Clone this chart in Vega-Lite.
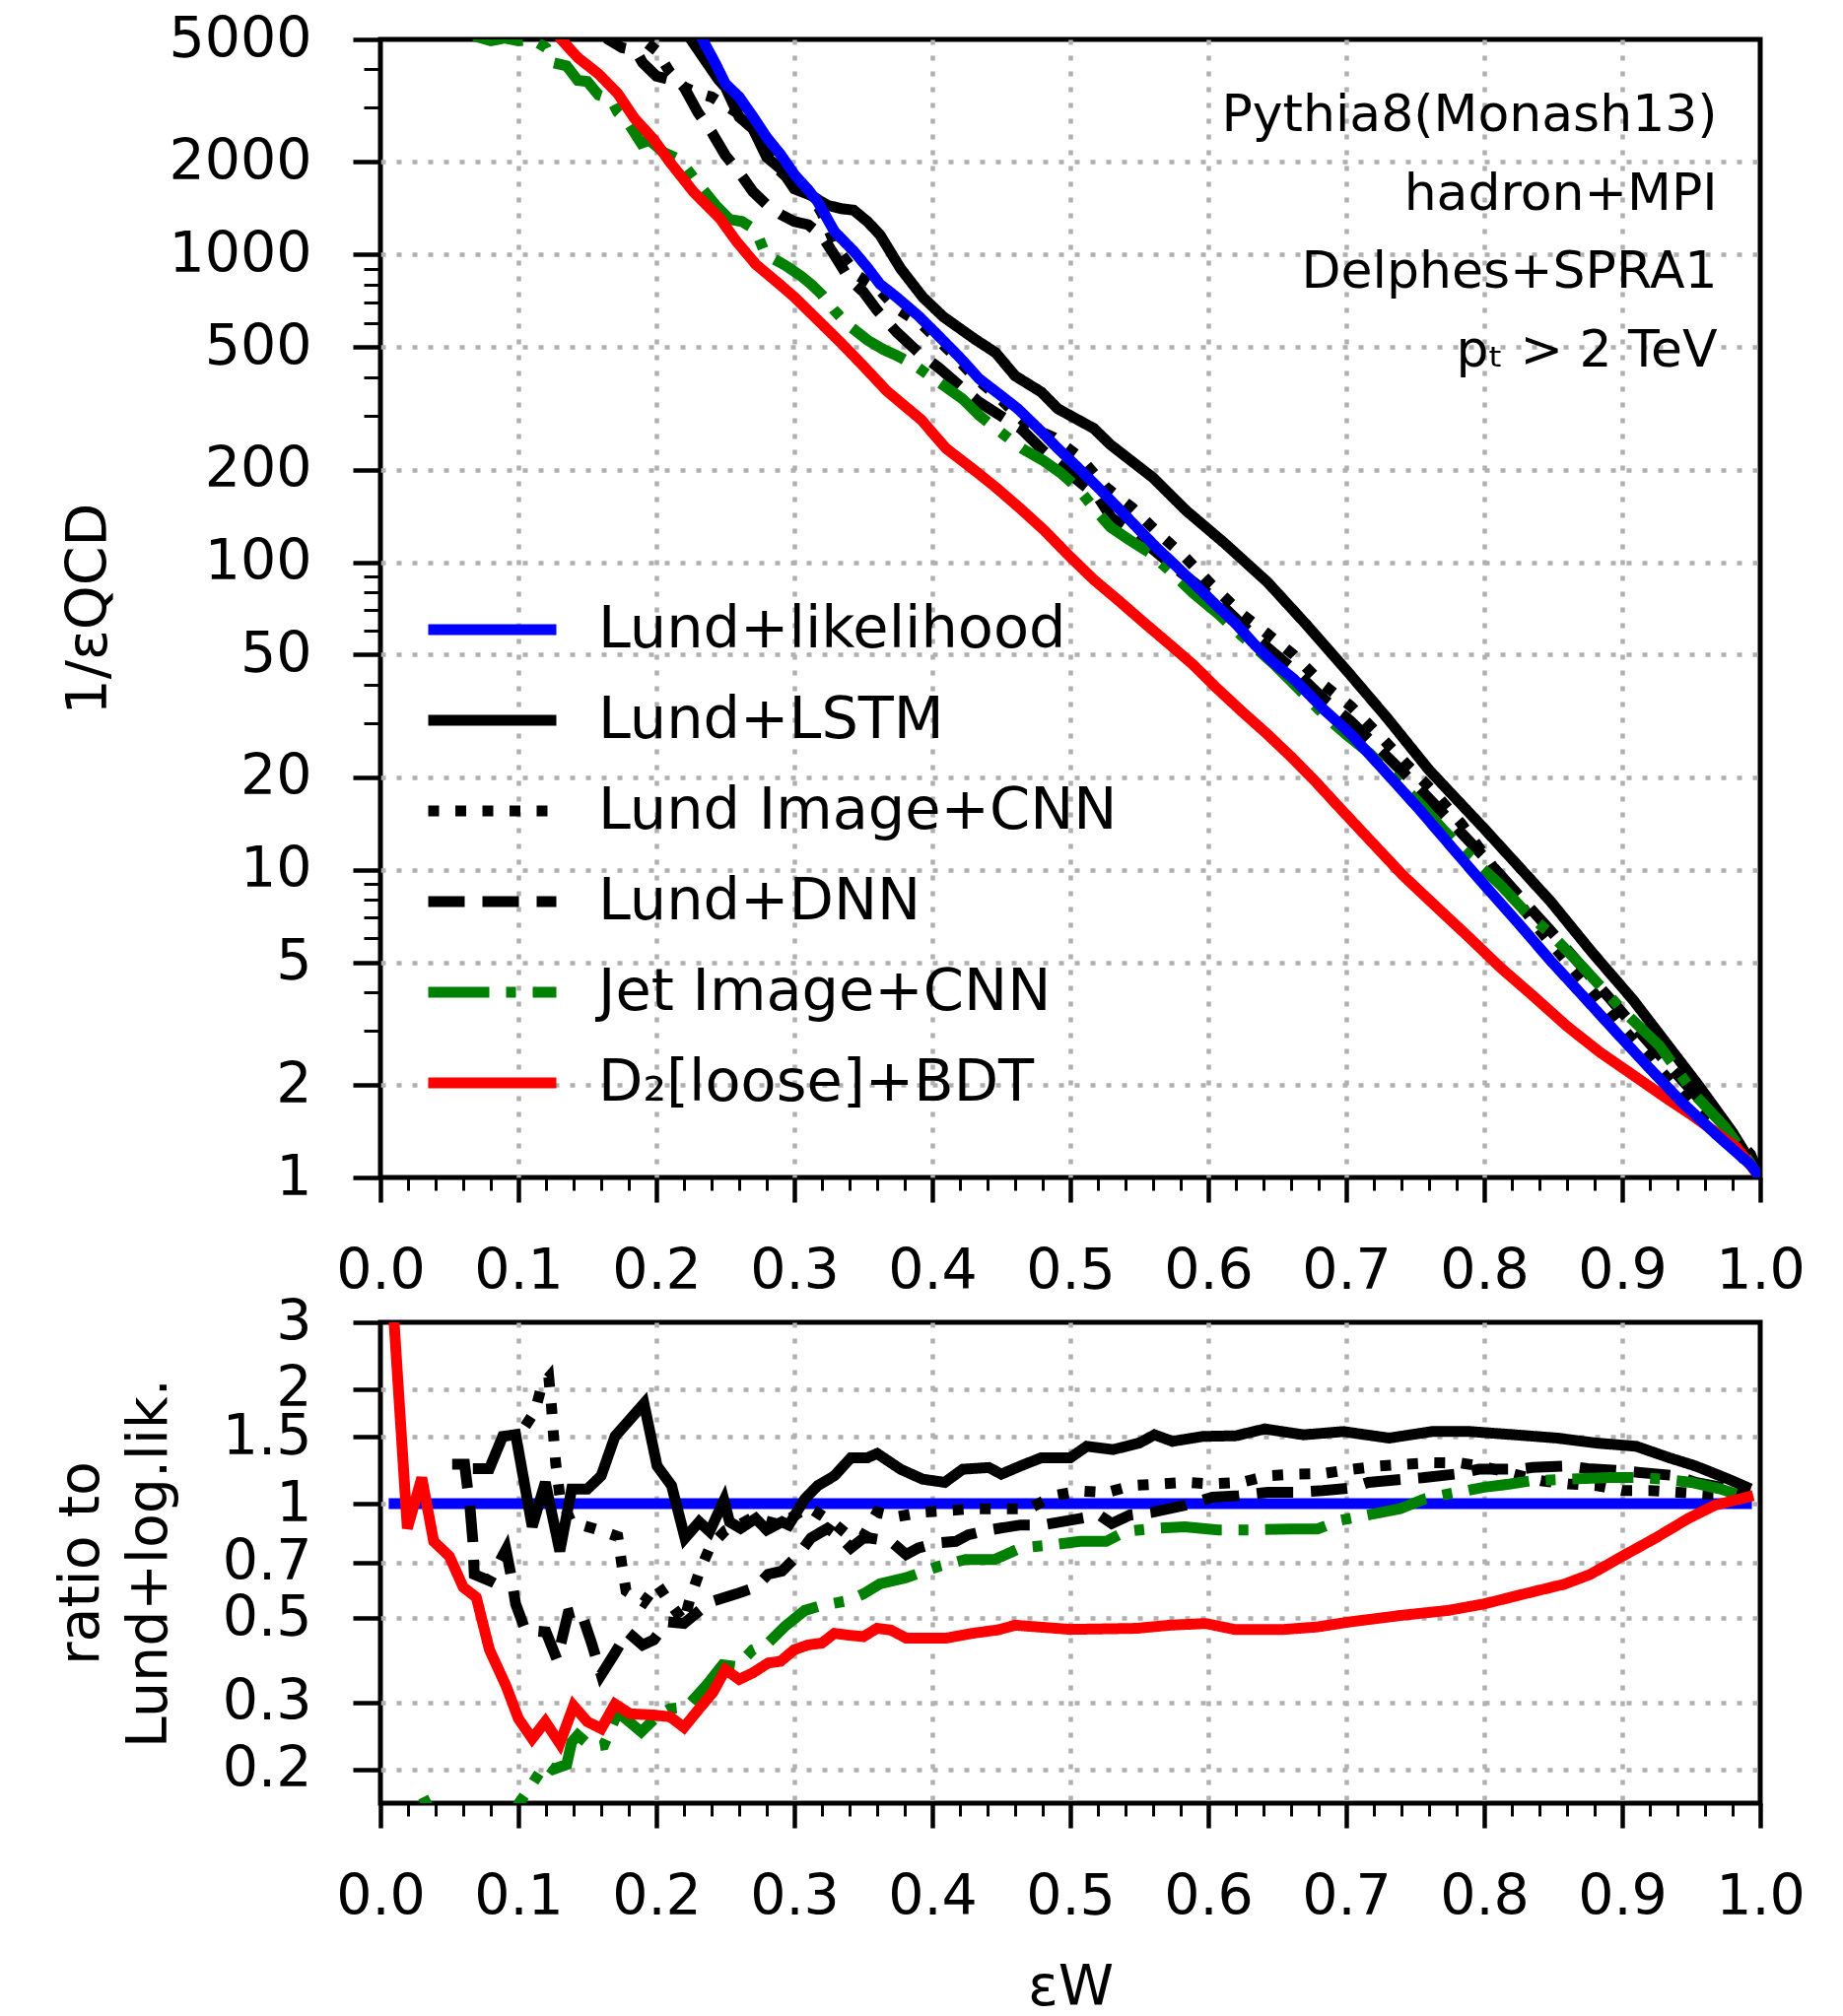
{
"$schema":"https://vega.github.io/schema/vega-lite/v6.json",
"background":"white",
"padding":{"left":50,"top":8,"right":20,"bottom":10},
"config":{
 "font":"DejaVu Sans",
 "view":{"stroke":"black","strokeWidth":5},
 "axis":{"domain":false,"tickColor":"black","labelColor":"black","titleColor":"black","labelFontSize":57,"titleFontSize":57,"titleFontWeight":"normal","gridColor":"#b0b0b0","gridWidth":4.5,"gridDash":[5,11],"labelOverlap":false,"labelFlush":false,"labelBound":false}
},
"datasets":{
"roc":[
{"model":"Lund+likelihood","eff":0.228,"rej":5700},{"model":"Lund+likelihood","eff":0.234,"rej":4943},{"model":"Lund+likelihood","eff":0.243,"rej":4160},{"model":"Lund+likelihood","eff":0.25,"rej":3590},{"model":"Lund+likelihood","eff":0.26,"rej":3250},{"model":"Lund+likelihood","eff":0.27,"rej":2805},{"model":"Lund+likelihood","eff":0.28,"rej":2400},{"model":"Lund+likelihood","eff":0.29,"rej":2113},{"model":"Lund+likelihood","eff":0.3,"rej":1820},{"model":"Lund+likelihood","eff":0.31,"rej":1622},{"model":"Lund+likelihood","eff":0.317,"rej":1483},{"model":"Lund+likelihood","eff":0.329,"rej":1188},{"model":"Lund+likelihood","eff":0.343,"rej":1025},{"model":"Lund+likelihood","eff":0.353,"rej":906},{"model":"Lund+likelihood","eff":0.362,"rej":801},{"model":"Lund+likelihood","eff":0.374,"rej":727},{"model":"Lund+likelihood","eff":0.39,"rej":631},{"model":"Lund+likelihood","eff":0.405,"rej":541},{"model":"Lund+likelihood","eff":0.42,"rej":462},{"model":"Lund+likelihood","eff":0.434,"rej":394},{"model":"Lund+likelihood","eff":0.45,"rej":347},{"model":"Lund+likelihood","eff":0.462,"rej":315},{"model":"Lund+likelihood","eff":0.48,"rej":263},{"model":"Lund+likelihood","eff":0.491,"rej":234},{"model":"Lund+likelihood","eff":0.505,"rej":204},{"model":"Lund+likelihood","eff":0.52,"rej":175},{"model":"Lund+likelihood","eff":0.534,"rej":151},{"model":"Lund+likelihood","eff":0.548,"rej":130},{"model":"Lund+likelihood","eff":0.562,"rej":112},{"model":"Lund+likelihood","eff":0.577,"rej":96.8},{"model":"Lund+likelihood","eff":0.591,"rej":84.1},{"model":"Lund+likelihood","eff":0.605,"rej":73},{"model":"Lund+likelihood","eff":0.62,"rej":63},{"model":"Lund+likelihood","eff":0.634,"rej":53.7},{"model":"Lund+likelihood","eff":0.648,"rej":46.8},{"model":"Lund+likelihood","eff":0.662,"rej":41.7},{"model":"Lund+likelihood","eff":0.684,"rej":33.1},{"model":"Lund+likelihood","eff":0.703,"rej":27.7},{"model":"Lund+likelihood","eff":0.728,"rej":20.9},{"model":"Lund+likelihood","eff":0.753,"rej":15.7},{"model":"Lund+likelihood","eff":0.776,"rej":11.9},{"model":"Lund+likelihood","eff":0.8,"rej":8.93},{"model":"Lund+likelihood","eff":0.824,"rej":6.76},{"model":"Lund+likelihood","eff":0.848,"rej":5.07},{"model":"Lund+likelihood","eff":0.872,"rej":3.87},{"model":"Lund+likelihood","eff":0.896,"rej":2.95},{"model":"Lund+likelihood","eff":0.92,"rej":2.26},{"model":"Lund+likelihood","eff":0.943,"rej":1.76},{"model":"Lund+likelihood","eff":0.968,"rej":1.38},{"model":"Lund+likelihood","eff":0.993,"rej":1.1},{"model":"Lund+likelihood","eff":1.0,"rej":1.0},
{"model":"Lund+LSTM","eff":0.22,"rej":5600},{"model":"Lund+LSTM","eff":0.225,"rej":5000},{"model":"Lund+LSTM","eff":0.235,"rej":4300},{"model":"Lund+LSTM","eff":0.245,"rej":3700},{"model":"Lund+LSTM","eff":0.25,"rej":3500},{"model":"Lund+LSTM","eff":0.26,"rej":2800},{"model":"Lund+LSTM","eff":0.27,"rej":2560},{"model":"Lund+LSTM","eff":0.28,"rej":2070},{"model":"Lund+LSTM","eff":0.29,"rej":1900},{"model":"Lund+LSTM","eff":0.3,"rej":1634},{"model":"Lund+LSTM","eff":0.312,"rej":1556},{"model":"Lund+LSTM","eff":0.324,"rej":1445},{"model":"Lund+LSTM","eff":0.334,"rej":1409},{"model":"Lund+LSTM","eff":0.343,"rej":1393},{"model":"Lund+LSTM","eff":0.353,"rej":1279},{"model":"Lund+LSTM","eff":0.362,"rej":1159},{"model":"Lund+LSTM","eff":0.377,"rej":900},{"model":"Lund+LSTM","eff":0.393,"rej":727},{"model":"Lund+LSTM","eff":0.408,"rej":627},{"model":"Lund+LSTM","eff":0.431,"rej":530},{"model":"Lund+LSTM","eff":0.446,"rej":479},{"model":"Lund+LSTM","eff":0.46,"rej":403},{"model":"Lund+LSTM","eff":0.479,"rej":357},{"model":"Lund+LSTM","eff":0.491,"rej":315},{"model":"Lund+LSTM","eff":0.517,"rej":272},{"model":"Lund+LSTM","eff":0.529,"rej":241},{"model":"Lund+LSTM","eff":0.545,"rej":212},{"model":"Lund+LSTM","eff":0.56,"rej":188},{"model":"Lund+LSTM","eff":0.584,"rej":147},{"model":"Lund+LSTM","eff":0.612,"rej":115},{"model":"Lund+LSTM","eff":0.643,"rej":86},{"model":"Lund+LSTM","eff":0.672,"rej":62},{"model":"Lund+LSTM","eff":0.703,"rej":43},{"model":"Lund+LSTM","eff":0.73,"rej":31},{"model":"Lund+LSTM","eff":0.76,"rej":21.1},{"model":"Lund+LSTM","eff":0.8,"rej":13.6},{"model":"Lund+LSTM","eff":0.848,"rej":7.9},{"model":"Lund+LSTM","eff":0.878,"rej":5.4},{"model":"Lund+LSTM","eff":0.908,"rej":3.77},{"model":"Lund+LSTM","eff":0.955,"rej":2.0},{"model":"Lund+LSTM","eff":0.98,"rej":1.4},{"model":"Lund+LSTM","eff":1.0,"rej":1.0},
{"model":"Lund Image+CNN","eff":0.18,"rej":5600},{"model":"Lund Image+CNN","eff":0.19,"rej":5000},{"model":"Lund Image+CNN","eff":0.2,"rej":4600},{"model":"Lund Image+CNN","eff":0.21,"rej":3900},{"model":"Lund Image+CNN","eff":0.22,"rej":3500},{"model":"Lund Image+CNN","eff":0.23,"rej":3350},{"model":"Lund Image+CNN","eff":0.24,"rej":3250},{"model":"Lund Image+CNN","eff":0.25,"rej":3050},{"model":"Lund Image+CNN","eff":0.26,"rej":2860},{"model":"Lund Image+CNN","eff":0.27,"rej":2580},{"model":"Lund Image+CNN","eff":0.28,"rej":2160},{"model":"Lund Image+CNN","eff":0.29,"rej":1860},{"model":"Lund Image+CNN","eff":0.3,"rej":1690},{"model":"Lund Image+CNN","eff":0.31,"rej":1620},{"model":"Lund Image+CNN","eff":0.32,"rej":1360},{"model":"Lund Image+CNN","eff":0.33,"rej":1060},{"model":"Lund Image+CNN","eff":0.346,"rej":853},{"model":"Lund Image+CNN","eff":0.36,"rej":781},{"model":"Lund Image+CNN","eff":0.374,"rej":669},{"model":"Lund Image+CNN","eff":0.393,"rej":589},{"model":"Lund Image+CNN","eff":0.412,"rej":488},{"model":"Lund Image+CNN","eff":0.43,"rej":402},{"model":"Lund Image+CNN","eff":0.45,"rej":337},{"model":"Lund Image+CNN","eff":0.47,"rej":276},{"model":"Lund Image+CNN","eff":0.488,"rej":254},{"model":"Lund Image+CNN","eff":0.507,"rej":219},{"model":"Lund Image+CNN","eff":0.526,"rej":175},{"model":"Lund Image+CNN","eff":0.545,"rej":150},{"model":"Lund Image+CNN","eff":0.564,"rej":124},{"model":"Lund Image+CNN","eff":0.583,"rej":104},{"model":"Lund Image+CNN","eff":0.602,"rej":84.8},{"model":"Lund Image+CNN","eff":0.624,"rej":68},{"model":"Lund Image+CNN","eff":0.643,"rej":58.4},{"model":"Lund Image+CNN","eff":0.662,"rej":49.9},{"model":"Lund Image+CNN","eff":0.683,"rej":40.1},{"model":"Lund Image+CNN","eff":0.703,"rej":34.1},{"model":"Lund Image+CNN","eff":0.724,"rej":27.4},{"model":"Lund Image+CNN","eff":0.743,"rej":22.2},{"model":"Lund Image+CNN","eff":0.762,"rej":18.2},{"model":"Lund Image+CNN","eff":0.783,"rej":14.2},{"model":"Lund Image+CNN","eff":0.8,"rej":11.2},{"model":"Lund Image+CNN","eff":0.82,"rej":8.4},{"model":"Lund Image+CNN","eff":0.841,"rej":6.3},{"model":"Lund Image+CNN","eff":0.861,"rej":4.96},{"model":"Lund Image+CNN","eff":0.881,"rej":3.9},{"model":"Lund Image+CNN","eff":0.9,"rej":3.06},{"model":"Lund Image+CNN","eff":0.92,"rej":2.44},{"model":"Lund Image+CNN","eff":0.94,"rej":1.93},{"model":"Lund Image+CNN","eff":0.96,"rej":1.54},{"model":"Lund Image+CNN","eff":0.985,"rej":1.19},{"model":"Lund Image+CNN","eff":1.0,"rej":1.0},
{"model":"Lund+DNN","eff":0.16,"rej":5600},{"model":"Lund+DNN","eff":0.165,"rej":5000},{"model":"Lund+DNN","eff":0.175,"rej":4700},{"model":"Lund+DNN","eff":0.185,"rej":4600},{"model":"Lund+DNN","eff":0.19,"rej":4200},{"model":"Lund+DNN","eff":0.2,"rej":3800},{"model":"Lund+DNN","eff":0.21,"rej":3700},{"model":"Lund+DNN","eff":0.22,"rej":3500},{"model":"Lund+DNN","eff":0.23,"rej":2900},{"model":"Lund+DNN","eff":0.24,"rej":2500},{"model":"Lund+DNN","eff":0.25,"rej":2100},{"model":"Lund+DNN","eff":0.26,"rej":1850},{"model":"Lund+DNN","eff":0.27,"rej":1600},{"model":"Lund+DNN","eff":0.28,"rej":1450},{"model":"Lund+DNN","eff":0.29,"rej":1350},{"model":"Lund+DNN","eff":0.3,"rej":1280},{"model":"Lund+DNN","eff":0.31,"rej":1250},{"model":"Lund+DNN","eff":0.32,"rej":1150},{"model":"Lund+DNN","eff":0.33,"rej":980},{"model":"Lund+DNN","eff":0.34,"rej":830},{"model":"Lund+DNN","eff":0.35,"rej":756},{"model":"Lund+DNN","eff":0.36,"rej":658},{"model":"Lund+DNN","eff":0.374,"rej":560},{"model":"Lund+DNN","eff":0.39,"rej":480},{"model":"Lund+DNN","eff":0.405,"rej":427},{"model":"Lund+DNN","eff":0.42,"rej":374},{"model":"Lund+DNN","eff":0.434,"rej":331},{"model":"Lund+DNN","eff":0.45,"rej":298},{"model":"Lund+DNN","eff":0.464,"rej":272},{"model":"Lund+DNN","eff":0.48,"rej":231},{"model":"Lund+DNN","eff":0.5,"rej":193},{"model":"Lund+DNN","eff":0.52,"rej":163},{"model":"Lund+DNN","eff":0.53,"rej":139},{"model":"Lund+DNN","eff":0.548,"rej":122},{"model":"Lund+DNN","eff":0.577,"rej":95},{"model":"Lund+DNN","eff":0.605,"rej":76},{"model":"Lund+DNN","eff":0.634,"rej":57},{"model":"Lund+DNN","eff":0.662,"rej":44.6},{"model":"Lund+DNN","eff":0.684,"rej":35.8},{"model":"Lund+DNN","eff":0.703,"rej":30.5},{"model":"Lund+DNN","eff":0.753,"rej":18.4},{"model":"Lund+DNN","eff":0.8,"rej":11.0},{"model":"Lund+DNN","eff":0.848,"rej":6.34},{"model":"Lund+DNN","eff":0.896,"rej":3.6},{"model":"Lund+DNN","eff":0.943,"rej":2.08},{"model":"Lund+DNN","eff":0.993,"rej":1.19},{"model":"Lund+DNN","eff":1.0,"rej":1.0},
{"model":"Jet Image+CNN","eff":0.065,"rej":5600},{"model":"Jet Image+CNN","eff":0.07,"rej":5100},{"model":"Jet Image+CNN","eff":0.08,"rej":4950},{"model":"Jet Image+CNN","eff":0.09,"rej":5050},{"model":"Jet Image+CNN","eff":0.1,"rej":4950},{"model":"Jet Image+CNN","eff":0.11,"rej":5000},{"model":"Jet Image+CNN","eff":0.12,"rej":4700},{"model":"Jet Image+CNN","eff":0.125,"rej":4200},{"model":"Jet Image+CNN","eff":0.135,"rej":4100},{"model":"Jet Image+CNN","eff":0.143,"rej":3680},{"model":"Jet Image+CNN","eff":0.15,"rej":3650},{"model":"Jet Image+CNN","eff":0.158,"rej":3300},{"model":"Jet Image+CNN","eff":0.167,"rej":3200},{"model":"Jet Image+CNN","eff":0.172,"rej":2900},{"model":"Jet Image+CNN","eff":0.179,"rej":2700},{"model":"Jet Image+CNN","eff":0.189,"rej":2300},{"model":"Jet Image+CNN","eff":0.195,"rej":2350},{"model":"Jet Image+CNN","eff":0.205,"rej":2150},{"model":"Jet Image+CNN","eff":0.215,"rej":2050},{"model":"Jet Image+CNN","eff":0.22,"rej":1950},{"model":"Jet Image+CNN","eff":0.228,"rej":1750},{"model":"Jet Image+CNN","eff":0.235,"rej":1600},{"model":"Jet Image+CNN","eff":0.243,"rej":1446},{"model":"Jet Image+CNN","eff":0.253,"rej":1300},{"model":"Jet Image+CNN","eff":0.262,"rej":1280},{"model":"Jet Image+CNN","eff":0.272,"rej":1200},{"model":"Jet Image+CNN","eff":0.279,"rej":1000},{"model":"Jet Image+CNN","eff":0.29,"rej":940},{"model":"Jet Image+CNN","eff":0.296,"rej":906},{"model":"Jet Image+CNN","eff":0.305,"rej":850},{"model":"Jet Image+CNN","eff":0.312,"rej":801},{"model":"Jet Image+CNN","eff":0.32,"rej":740},{"model":"Jet Image+CNN","eff":0.329,"rej":658},{"model":"Jet Image+CNN","eff":0.339,"rej":590},{"model":"Jet Image+CNN","eff":0.353,"rej":527},{"model":"Jet Image+CNN","eff":0.365,"rej":490},{"model":"Jet Image+CNN","eff":0.374,"rej":470},{"model":"Jet Image+CNN","eff":0.386,"rej":440},{"model":"Jet Image+CNN","eff":0.398,"rej":403},{"model":"Jet Image+CNN","eff":0.41,"rej":370},{"model":"Jet Image+CNN","eff":0.422,"rej":339},{"model":"Jet Image+CNN","eff":0.434,"rej":300},{"model":"Jet Image+CNN","eff":0.446,"rej":272},{"model":"Jet Image+CNN","eff":0.465,"rej":234},{"model":"Jet Image+CNN","eff":0.481,"rej":213},{"model":"Jet Image+CNN","eff":0.493,"rej":195},{"model":"Jet Image+CNN","eff":0.505,"rej":175},{"model":"Jet Image+CNN","eff":0.517,"rej":150},{"model":"Jet Image+CNN","eff":0.529,"rej":130},{"model":"Jet Image+CNN","eff":0.543,"rej":118},{"model":"Jet Image+CNN","eff":0.558,"rej":107},{"model":"Jet Image+CNN","eff":0.574,"rej":92},{"model":"Jet Image+CNN","eff":0.589,"rej":79.4},{"model":"Jet Image+CNN","eff":0.607,"rej":68},{"model":"Jet Image+CNN","eff":0.624,"rej":57.8},{"model":"Jet Image+CNN","eff":0.648,"rej":46.4},{"model":"Jet Image+CNN","eff":0.66,"rej":41},{"model":"Jet Image+CNN","eff":0.672,"rej":36.2},{"model":"Jet Image+CNN","eff":0.685,"rej":31.5},{"model":"Jet Image+CNN","eff":0.7,"rej":27.5},{"model":"Jet Image+CNN","eff":0.717,"rej":23.9},{"model":"Jet Image+CNN","eff":0.735,"rej":19.8},{"model":"Jet Image+CNN","eff":0.753,"rej":16.5},{"model":"Jet Image+CNN","eff":0.771,"rej":13.4},{"model":"Jet Image+CNN","eff":0.789,"rej":11.1},{"model":"Jet Image+CNN","eff":0.812,"rej":8.9},{"model":"Jet Image+CNN","eff":0.83,"rej":7.3},{"model":"Jet Image+CNN","eff":0.848,"rej":6.2},{"model":"Jet Image+CNN","eff":0.872,"rej":4.8},{"model":"Jet Image+CNN","eff":0.9,"rej":3.5},{"model":"Jet Image+CNN","eff":0.927,"rej":2.68},{"model":"Jet Image+CNN","eff":0.953,"rej":1.85},{"model":"Jet Image+CNN","eff":0.975,"rej":1.45},{"model":"Jet Image+CNN","eff":1.0,"rej":1.0},
{"model":"D₂[loose]+BDT","eff":0.125,"rej":5600},{"model":"D₂[loose]+BDT","eff":0.131,"rej":5000},{"model":"D₂[loose]+BDT","eff":0.143,"rej":4365},{"model":"D₂[loose]+BDT","eff":0.158,"rej":3865},{"model":"D₂[loose]+BDT","eff":0.172,"rej":3335},{"model":"D₂[loose]+BDT","eff":0.184,"rej":2773},{"model":"D₂[loose]+BDT","eff":0.198,"rej":2366},{"model":"D₂[loose]+BDT","eff":0.21,"rej":1991},{"model":"D₂[loose]+BDT","eff":0.227,"rej":1595},{"model":"D₂[loose]+BDT","eff":0.246,"rej":1310},{"model":"D₂[loose]+BDT","eff":0.258,"rej":1104},{"model":"D₂[loose]+BDT","eff":0.272,"rej":929},{"model":"D₂[loose]+BDT","eff":0.289,"rej":802},{"model":"D₂[loose]+BDT","eff":0.3,"rej":727},{"model":"D₂[loose]+BDT","eff":0.317,"rej":612},{"model":"D₂[loose]+BDT","eff":0.334,"rej":515},{"model":"D₂[loose]+BDT","eff":0.35,"rej":434},{"model":"D₂[loose]+BDT","eff":0.367,"rej":360},{"model":"D₂[loose]+BDT","eff":0.392,"rej":290},{"model":"D₂[loose]+BDT","eff":0.41,"rej":234},{"model":"D₂[loose]+BDT","eff":0.428,"rej":203},{"model":"D₂[loose]+BDT","eff":0.446,"rej":175},{"model":"D₂[loose]+BDT","eff":0.464,"rej":149},{"model":"D₂[loose]+BDT","eff":0.481,"rej":127},{"model":"D₂[loose]+BDT","eff":0.499,"rej":105},{"model":"D₂[loose]+BDT","eff":0.517,"rej":87.7},{"model":"D₂[loose]+BDT","eff":0.535,"rej":75},{"model":"D₂[loose]+BDT","eff":0.553,"rej":63.8},{"model":"D₂[loose]+BDT","eff":0.571,"rej":54.5},{"model":"D₂[loose]+BDT","eff":0.589,"rej":46.4},{"model":"D₂[loose]+BDT","eff":0.606,"rej":39},{"model":"D₂[loose]+BDT","eff":0.624,"rej":32.8},{"model":"D₂[loose]+BDT","eff":0.642,"rej":27.8},{"model":"D₂[loose]+BDT","eff":0.66,"rej":23.3},{"model":"D₂[loose]+BDT","eff":0.677,"rej":19.5},{"model":"D₂[loose]+BDT","eff":0.693,"rej":16.3},{"model":"D₂[loose]+BDT","eff":0.717,"rej":12.5},{"model":"D₂[loose]+BDT","eff":0.741,"rej":9.6},{"model":"D₂[loose]+BDT","eff":0.765,"rej":7.6},{"model":"D₂[loose]+BDT","eff":0.789,"rej":6.03},{"model":"D₂[loose]+BDT","eff":0.812,"rej":4.8},{"model":"D₂[loose]+BDT","eff":0.836,"rej":3.87},{"model":"D₂[loose]+BDT","eff":0.86,"rej":3.1},{"model":"D₂[loose]+BDT","eff":0.884,"rej":2.55},{"model":"D₂[loose]+BDT","eff":0.908,"rej":2.15},{"model":"D₂[loose]+BDT","eff":0.932,"rej":1.81},{"model":"D₂[loose]+BDT","eff":0.95,"rej":1.6},{"model":"D₂[loose]+BDT","eff":0.967,"rej":1.41},{"model":"D₂[loose]+BDT","eff":0.983,"rej":1.25},{"model":"D₂[loose]+BDT","eff":1.0,"rej":1.0}
],
"ratio":[
{"model":"Lund+likelihood","eff":0.006,"ratio":1},{"model":"Lund+likelihood","eff":0.994,"ratio":1},
{"model":"Lund+LSTM","eff":0.067,"ratio":1.237},{"model":"Lund+LSTM","eff":0.079,"ratio":1.237},{"model":"Lund+LSTM","eff":0.0886,"ratio":1.503},{"model":"Lund+LSTM","eff":0.098,"ratio":1.52},{"model":"Lund+LSTM","eff":0.11,"ratio":0.87},{"model":"Lund+LSTM","eff":0.1195,"ratio":1.138},{"model":"Lund+LSTM","eff":0.13,"ratio":0.75},{"model":"Lund+LSTM","eff":0.1386,"ratio":1.093},{"model":"Lund+LSTM","eff":0.15,"ratio":1.093},{"model":"Lund+LSTM","eff":0.16,"ratio":1.184},{"model":"Lund+LSTM","eff":0.17,"ratio":1.503},{"model":"Lund+LSTM","eff":0.191,"ratio":1.834},{"model":"Lund+LSTM","eff":0.2005,"ratio":1.257},{"model":"Lund+LSTM","eff":0.211,"ratio":1.116},{"model":"Lund+LSTM","eff":0.2207,"ratio":0.812},{"model":"Lund+LSTM","eff":0.231,"ratio":0.896},{"model":"Lund+LSTM","eff":0.2386,"ratio":0.845},{"model":"Lund+LSTM","eff":0.249,"ratio":1.02},{"model":"Lund+LSTM","eff":0.253,"ratio":0.896},{"model":"Lund+LSTM","eff":0.261,"ratio":0.861},{"model":"Lund+LSTM","eff":0.272,"ratio":0.914},{"model":"Lund+LSTM","eff":0.28,"ratio":0.853},{"model":"Lund+LSTM","eff":0.291,"ratio":0.896},{"model":"Lund+LSTM","eff":0.296,"ratio":0.879},{"model":"Lund+LSTM","eff":0.3076,"ratio":1.03},{"model":"Lund+LSTM","eff":0.317,"ratio":1.116},{"model":"Lund+LSTM","eff":0.329,"ratio":1.184},{"model":"Lund+LSTM","eff":0.341,"ratio":1.321},{"model":"Lund+LSTM","eff":0.353,"ratio":1.321},{"model":"Lund+LSTM","eff":0.36,"ratio":1.355},{"model":"Lund+LSTM","eff":0.377,"ratio":1.232},{"model":"Lund+LSTM","eff":0.393,"ratio":1.16},{"model":"Lund+LSTM","eff":0.409,"ratio":1.138},{"model":"Lund+LSTM","eff":0.422,"ratio":1.232},{"model":"Lund+LSTM","eff":0.441,"ratio":1.245},{"model":"Lund+LSTM","eff":0.45,"ratio":1.196},{"model":"Lund+LSTM","eff":0.464,"ratio":1.257},{"model":"Lund+LSTM","eff":0.479,"ratio":1.321},{"model":"Lund+LSTM","eff":0.5,"ratio":1.321},{"model":"Lund+LSTM","eff":0.512,"ratio":1.416},{"model":"Lund+LSTM","eff":0.531,"ratio":1.388},{"model":"Lund+LSTM","eff":0.55,"ratio":1.444},{"model":"Lund+LSTM","eff":0.561,"ratio":1.518},{"model":"Lund+LSTM","eff":0.574,"ratio":1.459},{"model":"Lund+LSTM","eff":0.596,"ratio":1.503},{"model":"Lund+LSTM","eff":0.62,"ratio":1.509},{"model":"Lund+LSTM","eff":0.641,"ratio":1.573},{"model":"Lund+LSTM","eff":0.669,"ratio":1.518},{"model":"Lund+LSTM","eff":0.698,"ratio":1.548},{"model":"Lund+LSTM","eff":0.731,"ratio":1.488},{"model":"Lund+LSTM","eff":0.762,"ratio":1.548},{"model":"Lund+LSTM","eff":0.79,"ratio":1.548},{"model":"Lund+LSTM","eff":0.822,"ratio":1.518},{"model":"Lund+LSTM","eff":0.853,"ratio":1.488},{"model":"Lund+LSTM","eff":0.881,"ratio":1.444},{"model":"Lund+LSTM","eff":0.91,"ratio":1.416},{"model":"Lund+LSTM","eff":0.934,"ratio":1.321},{"model":"Lund+LSTM","eff":0.953,"ratio":1.257},{"model":"Lund+LSTM","eff":0.977,"ratio":1.16},{"model":"Lund+LSTM","eff":0.993,"ratio":1.094},
{"model":"Lund Image+CNN","eff":0.105,"ratio":1.6},{"model":"Lund Image+CNN","eff":0.112,"ratio":1.75},{"model":"Lund Image+CNN","eff":0.117,"ratio":2.05},{"model":"Lund Image+CNN","eff":0.122,"ratio":2.15},{"model":"Lund Image+CNN","eff":0.124,"ratio":1.8},{"model":"Lund Image+CNN","eff":0.1255,"ratio":1.5},{"model":"Lund Image+CNN","eff":0.127,"ratio":1.28},{"model":"Lund Image+CNN","eff":0.13,"ratio":1.05},{"model":"Lund Image+CNN","eff":0.138,"ratio":0.9},{"model":"Lund Image+CNN","eff":0.146,"ratio":0.879},{"model":"Lund Image+CNN","eff":0.158,"ratio":0.853},{"model":"Lund Image+CNN","eff":0.172,"ratio":0.82},{"model":"Lund Image+CNN","eff":0.175,"ratio":0.69},{"model":"Lund Image+CNN","eff":0.178,"ratio":0.59},{"model":"Lund Image+CNN","eff":0.191,"ratio":0.551},{"model":"Lund Image+CNN","eff":0.2005,"ratio":0.614},{"model":"Lund Image+CNN","eff":0.211,"ratio":0.54},{"model":"Lund Image+CNN","eff":0.22,"ratio":0.489},{"model":"Lund Image+CNN","eff":0.224,"ratio":0.556},{"model":"Lund Image+CNN","eff":0.231,"ratio":0.659},{"model":"Lund Image+CNN","eff":0.239,"ratio":0.772},{"model":"Lund Image+CNN","eff":0.25,"ratio":0.85},{"model":"Lund Image+CNN","eff":0.26,"ratio":0.88},{"model":"Lund Image+CNN","eff":0.27,"ratio":0.92},{"model":"Lund Image+CNN","eff":0.28,"ratio":0.9},{"model":"Lund Image+CNN","eff":0.29,"ratio":0.88},{"model":"Lund Image+CNN","eff":0.3,"ratio":0.93},{"model":"Lund Image+CNN","eff":0.31,"ratio":0.98},{"model":"Lund Image+CNN","eff":0.32,"ratio":0.93},{"model":"Lund Image+CNN","eff":0.33,"ratio":0.88},{"model":"Lund Image+CNN","eff":0.34,"ratio":0.82},{"model":"Lund Image+CNN","eff":0.35,"ratio":0.82},{"model":"Lund Image+CNN","eff":0.36,"ratio":0.95},{"model":"Lund Image+CNN","eff":0.374,"ratio":0.924},{"model":"Lund Image+CNN","eff":0.393,"ratio":0.95},{"model":"Lund Image+CNN","eff":0.412,"ratio":0.96},{"model":"Lund Image+CNN","eff":0.43,"ratio":0.97},{"model":"Lund Image+CNN","eff":0.45,"ratio":0.97},{"model":"Lund Image+CNN","eff":0.47,"ratio":0.97},{"model":"Lund Image+CNN","eff":0.488,"ratio":1.05},{"model":"Lund Image+CNN","eff":0.507,"ratio":1.08},{"model":"Lund Image+CNN","eff":0.526,"ratio":1.07},{"model":"Lund Image+CNN","eff":0.545,"ratio":1.116},{"model":"Lund Image+CNN","eff":0.564,"ratio":1.127},{"model":"Lund Image+CNN","eff":0.583,"ratio":1.138},{"model":"Lund Image+CNN","eff":0.602,"ratio":1.127},{"model":"Lund Image+CNN","eff":0.624,"ratio":1.138},{"model":"Lund Image+CNN","eff":0.643,"ratio":1.184},{"model":"Lund Image+CNN","eff":0.662,"ratio":1.196},{"model":"Lund Image+CNN","eff":0.683,"ratio":1.2},{"model":"Lund Image+CNN","eff":0.703,"ratio":1.23},{"model":"Lund Image+CNN","eff":0.724,"ratio":1.257},{"model":"Lund Image+CNN","eff":0.743,"ratio":1.27},{"model":"Lund Image+CNN","eff":0.762,"ratio":1.282},{"model":"Lund Image+CNN","eff":0.783,"ratio":1.28},{"model":"Lund Image+CNN","eff":0.8,"ratio":1.25},{"model":"Lund Image+CNN","eff":0.82,"ratio":1.2},{"model":"Lund Image+CNN","eff":0.841,"ratio":1.149},{"model":"Lund Image+CNN","eff":0.861,"ratio":1.127},{"model":"Lund Image+CNN","eff":0.881,"ratio":1.116},{"model":"Lund Image+CNN","eff":0.9,"ratio":1.083},{"model":"Lund Image+CNN","eff":0.92,"ratio":1.083},{"model":"Lund Image+CNN","eff":0.94,"ratio":1.072},{"model":"Lund Image+CNN","eff":0.96,"ratio":1.061},{"model":"Lund Image+CNN","eff":0.985,"ratio":1.06},{"model":"Lund Image+CNN","eff":0.995,"ratio":1.05},
{"model":"Lund+DNN","eff":0.052,"ratio":1.27},{"model":"Lund+DNN","eff":0.061,"ratio":1.27},{"model":"Lund+DNN","eff":0.065,"ratio":0.97},{"model":"Lund+DNN","eff":0.067,"ratio":0.796},{"model":"Lund+DNN","eff":0.068,"ratio":0.652},{"model":"Lund+DNN","eff":0.079,"ratio":0.627},{"model":"Lund+DNN","eff":0.091,"ratio":0.757},{"model":"Lund+DNN","eff":0.0945,"ratio":0.652},{"model":"Lund+DNN","eff":0.098,"ratio":0.545},{"model":"Lund+DNN","eff":0.105,"ratio":0.465},{"model":"Lund+DNN","eff":0.12,"ratio":0.46},{"model":"Lund+DNN","eff":0.128,"ratio":0.389},{"model":"Lund+DNN","eff":0.136,"ratio":0.514},{"model":"Lund+DNN","eff":0.145,"ratio":0.524},{"model":"Lund+DNN","eff":0.153,"ratio":0.43},{"model":"Lund+DNN","eff":0.16,"ratio":0.355},{"model":"Lund+DNN","eff":0.17,"ratio":0.405},{"model":"Lund+DNN","eff":0.179,"ratio":0.46},{"model":"Lund+DNN","eff":0.19,"ratio":0.425},{"model":"Lund+DNN","eff":0.198,"ratio":0.438},{"model":"Lund+DNN","eff":0.208,"ratio":0.489},{"model":"Lund+DNN","eff":0.22,"ratio":0.484},{"model":"Lund+DNN","eff":0.2386,"ratio":0.551},{"model":"Lund+DNN","eff":0.258,"ratio":0.579},{"model":"Lund+DNN","eff":0.272,"ratio":0.603},{"model":"Lund+DNN","eff":0.281,"ratio":0.652},{"model":"Lund+DNN","eff":0.291,"ratio":0.665},{"model":"Lund+DNN","eff":0.303,"ratio":0.735},{"model":"Lund+DNN","eff":0.312,"ratio":0.812},{"model":"Lund+DNN","eff":0.324,"ratio":0.861},{"model":"Lund+DNN","eff":0.334,"ratio":0.812},{"model":"Lund+DNN","eff":0.341,"ratio":0.765},{"model":"Lund+DNN","eff":0.35,"ratio":0.812},{"model":"Lund+DNN","eff":0.355,"ratio":0.812},{"model":"Lund+DNN","eff":0.37,"ratio":0.796},{"model":"Lund+DNN","eff":0.381,"ratio":0.735},{"model":"Lund+DNN","eff":0.39,"ratio":0.765},{"model":"Lund+DNN","eff":0.403,"ratio":0.788},{"model":"Lund+DNN","eff":0.417,"ratio":0.796},{"model":"Lund+DNN","eff":0.426,"ratio":0.828},{"model":"Lund+DNN","eff":0.441,"ratio":0.853},{"model":"Lund+DNN","eff":0.464,"ratio":0.879},{"model":"Lund+DNN","eff":0.48,"ratio":0.879},{"model":"Lund+DNN","eff":0.507,"ratio":0.914},{"model":"Lund+DNN","eff":0.521,"ratio":0.933},{"model":"Lund+DNN","eff":0.53,"ratio":0.887},{"model":"Lund+DNN","eff":0.543,"ratio":0.933},{"model":"Lund+DNN","eff":0.56,"ratio":0.95},{"model":"Lund+DNN","eff":0.583,"ratio":0.99},{"model":"Lund+DNN","eff":0.603,"ratio":1.04},{"model":"Lund+DNN","eff":0.622,"ratio":1.05},{"model":"Lund+DNN","eff":0.643,"ratio":1.072},{"model":"Lund+DNN","eff":0.662,"ratio":1.072},{"model":"Lund+DNN","eff":0.683,"ratio":1.083},{"model":"Lund+DNN","eff":0.703,"ratio":1.1},{"model":"Lund+DNN","eff":0.716,"ratio":1.138},{"model":"Lund+DNN","eff":0.742,"ratio":1.16},{"model":"Lund+DNN","eff":0.755,"ratio":1.17},{"model":"Lund+DNN","eff":0.782,"ratio":1.2},{"model":"Lund+DNN","eff":0.796,"ratio":1.232},{"model":"Lund+DNN","eff":0.825,"ratio":1.232},{"model":"Lund+DNN","eff":0.835,"ratio":1.245},{"model":"Lund+DNN","eff":0.861,"ratio":1.257},{"model":"Lund+DNN","eff":0.875,"ratio":1.237},{"model":"Lund+DNN","eff":0.9,"ratio":1.22},{"model":"Lund+DNN","eff":0.913,"ratio":1.208},{"model":"Lund+DNN","eff":0.94,"ratio":1.184},{"model":"Lund+DNN","eff":0.953,"ratio":1.138},{"model":"Lund+DNN","eff":0.984,"ratio":1.083},{"model":"Lund+DNN","eff":0.993,"ratio":1.08},
{"model":"Jet Image+CNN","eff":0.031,"ratio":0.169},{"model":"Jet Image+CNN","eff":0.04,"ratio":0.145},{"model":"Jet Image+CNN","eff":0.06,"ratio":0.12},{"model":"Jet Image+CNN","eff":0.08,"ratio":0.12},{"model":"Jet Image+CNN","eff":0.095,"ratio":0.14},{"model":"Jet Image+CNN","eff":0.1005,"ratio":0.163},{"model":"Jet Image+CNN","eff":0.11,"ratio":0.183},{"model":"Jet Image+CNN","eff":0.1195,"ratio":0.207},{"model":"Jet Image+CNN","eff":0.125,"ratio":0.2},{"model":"Jet Image+CNN","eff":0.135,"ratio":0.206},{"model":"Jet Image+CNN","eff":0.1386,"ratio":0.236},{"model":"Jet Image+CNN","eff":0.143,"ratio":0.246},{"model":"Jet Image+CNN","eff":0.153,"ratio":0.229},{"model":"Jet Image+CNN","eff":0.162,"ratio":0.232},{"model":"Jet Image+CNN","eff":0.172,"ratio":0.283},{"model":"Jet Image+CNN","eff":0.189,"ratio":0.251},{"model":"Jet Image+CNN","eff":0.2,"ratio":0.275},{"model":"Jet Image+CNN","eff":0.21,"ratio":0.289},{"model":"Jet Image+CNN","eff":0.222,"ratio":0.292},{"model":"Jet Image+CNN","eff":0.236,"ratio":0.332},{"model":"Jet Image+CNN","eff":0.248,"ratio":0.377},{"model":"Jet Image+CNN","eff":0.258,"ratio":0.373},{"model":"Jet Image+CNN","eff":0.27,"ratio":0.413},{"model":"Jet Image+CNN","eff":0.281,"ratio":0.43},{"model":"Jet Image+CNN","eff":0.293,"ratio":0.475},{"model":"Jet Image+CNN","eff":0.3076,"ratio":0.524},{"model":"Jet Image+CNN","eff":0.32,"ratio":0.54},{"model":"Jet Image+CNN","eff":0.339,"ratio":0.556},{"model":"Jet Image+CNN","eff":0.35,"ratio":0.579},{"model":"Jet Image+CNN","eff":0.362,"ratio":0.615},{"model":"Jet Image+CNN","eff":0.381,"ratio":0.639},{"model":"Jet Image+CNN","eff":0.405,"ratio":0.685},{"model":"Jet Image+CNN","eff":0.424,"ratio":0.713},{"model":"Jet Image+CNN","eff":0.445,"ratio":0.713},{"model":"Jet Image+CNN","eff":0.464,"ratio":0.765},{"model":"Jet Image+CNN","eff":0.488,"ratio":0.78},{"model":"Jet Image+CNN","eff":0.507,"ratio":0.796},{"model":"Jet Image+CNN","eff":0.526,"ratio":0.796},{"model":"Jet Image+CNN","eff":0.54,"ratio":0.845},{"model":"Jet Image+CNN","eff":0.56,"ratio":0.861},{"model":"Jet Image+CNN","eff":0.583,"ratio":0.87},{"model":"Jet Image+CNN","eff":0.607,"ratio":0.853},{"model":"Jet Image+CNN","eff":0.631,"ratio":0.853},{"model":"Jet Image+CNN","eff":0.66,"ratio":0.858},{"model":"Jet Image+CNN","eff":0.679,"ratio":0.858},{"model":"Jet Image+CNN","eff":0.696,"ratio":0.905},{"model":"Jet Image+CNN","eff":0.715,"ratio":0.933},{"model":"Jet Image+CNN","eff":0.739,"ratio":0.97},{"model":"Jet Image+CNN","eff":0.757,"ratio":1.03},{"model":"Jet Image+CNN","eff":0.774,"ratio":1.061},{"model":"Jet Image+CNN","eff":0.8,"ratio":1.105},{"model":"Jet Image+CNN","eff":0.819,"ratio":1.127},{"model":"Jet Image+CNN","eff":0.834,"ratio":1.149},{"model":"Jet Image+CNN","eff":0.862,"ratio":1.16},{"model":"Jet Image+CNN","eff":0.891,"ratio":1.172},{"model":"Jet Image+CNN","eff":0.912,"ratio":1.172},{"model":"Jet Image+CNN","eff":0.929,"ratio":1.16},{"model":"Jet Image+CNN","eff":0.95,"ratio":1.138},{"model":"Jet Image+CNN","eff":0.971,"ratio":1.094},{"model":"Jet Image+CNN","eff":0.986,"ratio":1.05},
{"model":"D₂[loose]+BDT","eff":0.006,"ratio":5.0},{"model":"D₂[loose]+BDT","eff":0.0195,"ratio":0.861},{"model":"D₂[loose]+BDT","eff":0.03,"ratio":1.17},{"model":"D₂[loose]+BDT","eff":0.0386,"ratio":0.796},{"model":"D₂[loose]+BDT","eff":0.05,"ratio":0.727},{"model":"D₂[loose]+BDT","eff":0.06,"ratio":0.603},{"model":"D₂[loose]+BDT","eff":0.0695,"ratio":0.567},{"model":"D₂[loose]+BDT","eff":0.079,"ratio":0.413},{"model":"D₂[loose]+BDT","eff":0.091,"ratio":0.332},{"model":"D₂[loose]+BDT","eff":0.1,"ratio":0.272},{"model":"D₂[loose]+BDT","eff":0.11,"ratio":0.241},{"model":"D₂[loose]+BDT","eff":0.1195,"ratio":0.267},{"model":"D₂[loose]+BDT","eff":0.13,"ratio":0.234},{"model":"D₂[loose]+BDT","eff":0.14,"ratio":0.294},{"model":"D₂[loose]+BDT","eff":0.15,"ratio":0.267},{"model":"D₂[loose]+BDT","eff":0.16,"ratio":0.256},{"model":"D₂[loose]+BDT","eff":0.17,"ratio":0.297},{"model":"D₂[loose]+BDT","eff":0.181,"ratio":0.28},{"model":"D₂[loose]+BDT","eff":0.198,"ratio":0.278},{"model":"D₂[loose]+BDT","eff":0.21,"ratio":0.275},{"model":"D₂[loose]+BDT","eff":0.22,"ratio":0.258},{"model":"D₂[loose]+BDT","eff":0.229,"ratio":0.283},{"model":"D₂[loose]+BDT","eff":0.241,"ratio":0.319},{"model":"D₂[loose]+BDT","eff":0.25,"ratio":0.366},{"model":"D₂[loose]+BDT","eff":0.26,"ratio":0.345},{"model":"D₂[loose]+BDT","eff":0.27,"ratio":0.359},{"model":"D₂[loose]+BDT","eff":0.281,"ratio":0.381},{"model":"D₂[loose]+BDT","eff":0.29,"ratio":0.385},{"model":"D₂[loose]+BDT","eff":0.3,"ratio":0.413},{"model":"D₂[loose]+BDT","eff":0.31,"ratio":0.425},{"model":"D₂[loose]+BDT","eff":0.32,"ratio":0.43},{"model":"D₂[loose]+BDT","eff":0.329,"ratio":0.456},{"model":"D₂[loose]+BDT","eff":0.339,"ratio":0.451},{"model":"D₂[loose]+BDT","eff":0.35,"ratio":0.447},{"model":"D₂[loose]+BDT","eff":0.36,"ratio":0.47},{"model":"D₂[loose]+BDT","eff":0.37,"ratio":0.465},{"model":"D₂[loose]+BDT","eff":0.381,"ratio":0.443},{"model":"D₂[loose]+BDT","eff":0.41,"ratio":0.443},{"model":"D₂[loose]+BDT","eff":0.429,"ratio":0.456},{"model":"D₂[loose]+BDT","eff":0.448,"ratio":0.466},{"model":"D₂[loose]+BDT","eff":0.46,"ratio":0.479},{"model":"D₂[loose]+BDT","eff":0.5,"ratio":0.467},{"model":"D₂[loose]+BDT","eff":0.548,"ratio":0.47},{"model":"D₂[loose]+BDT","eff":0.572,"ratio":0.479},{"model":"D₂[loose]+BDT","eff":0.598,"ratio":0.484},{"model":"D₂[loose]+BDT","eff":0.619,"ratio":0.467},{"model":"D₂[loose]+BDT","eff":0.655,"ratio":0.467},{"model":"D₂[loose]+BDT","eff":0.679,"ratio":0.474},{"model":"D₂[loose]+BDT","eff":0.703,"ratio":0.489},{"model":"D₂[loose]+BDT","eff":0.739,"ratio":0.508},{"model":"D₂[loose]+BDT","eff":0.774,"ratio":0.524},{"model":"D₂[loose]+BDT","eff":0.8,"ratio":0.545},{"model":"D₂[loose]+BDT","eff":0.829,"ratio":0.579},{"model":"D₂[loose]+BDT","eff":0.858,"ratio":0.614},{"model":"D₂[loose]+BDT","eff":0.877,"ratio":0.652},{"model":"D₂[loose]+BDT","eff":0.9,"ratio":0.727},{"model":"D₂[loose]+BDT","eff":0.924,"ratio":0.812},{"model":"D₂[loose]+BDT","eff":0.948,"ratio":0.915},{"model":"D₂[loose]+BDT","eff":0.967,"ratio":0.99},{"model":"D₂[loose]+BDT","eff":0.981,"ratio":1.02},{"model":"D₂[loose]+BDT","eff":0.995,"ratio":1.05}
]
},
"spacing":147,
"bounds":"flush",
"resolve":{"scale":{"x":"independent","y":"independent","color":"independent","strokeDash":"independent"},"legend":{"color":"independent","strokeDash":"independent"}},
"vconcat":[
{
 "width":1400,"height":1155,
 "resolve":{"scale":{"x":"independent","y":"independent"}},
 "layer":[
  {
   "data":{"name":"roc"},
   "encoding":{
    "x":{"field":"eff","type":"quantitative","scale":{"domain":[0,1],"nice":false,"zero":false},
     "axis":{"title":null,"labelOverlap":false,"labelFlush":false,"labelBound":false,"values":[0,0.02,0.04,0.06,0.08,0.1,0.12,0.14,0.16,0.18,0.2,0.22,0.24,0.26,0.28,0.3,0.32,0.34,0.36,0.38,0.4,0.42,0.44,0.46,0.48,0.5,0.52,0.54,0.56,0.58,0.6,0.62,0.64,0.66,0.68,0.7,0.72,0.74,0.76,0.78,0.8,0.82,0.84,0.86,0.88,0.9,0.92,0.94,0.96,0.98,1],
      "labelExpr":"abs(datum.value*10 - round(datum.value*10)) < 0.000001 ? format(datum.value, '.1f') : ''",
      "tickSize":{"condition":{"test":"abs(datum.value*10 - round(datum.value*10)) < 0.000001","value":25},"value":13},
      "tickWidth":{"condition":{"test":"abs(datum.value*10 - round(datum.value*10)) < 0.000001","value":4.5},"value":3},
      "gridOpacity":{"condition":{"test":"abs(datum.value*10 - round(datum.value*10)) < 0.000001 && datum.value > 0.001 && datum.value < 0.999","value":1},"value":0},
      "labelPadding":42}},
    "y":{"field":"rej","type":"quantitative","scale":{"type":"log","domain":[1,5000],"nice":false},
     "axis":{"title":"1/εQCD","titlePadding":67,"format":"d","labelOverlap":false,"labelFlush":false,"labelBound":false,
      "values":[1,2,3,4,5,6,7,8,9,10,20,30,40,50,60,70,80,90,100,200,300,400,500,600,700,800,900,1000,2000,3000,4000,5000],
      "labelExpr":"indexof([1,2,5,10,20,50,100,200,500,1000,2000,5000], datum.value) >= 0 ? datum.label : ''",
      "tickSize":{"condition":{"test":"indexof([1,2,5,10,20,50,100,200,500,1000,2000,5000], datum.value) >= 0","value":28},"value":17},
      "tickWidth":{"condition":{"test":"indexof([1,2,5,10,20,50,100,200,500,1000,2000,5000], datum.value) >= 0","value":4.5},"value":3},
      "gridOpacity":{"condition":{"test":"indexof([2,5,10,20,50,100,200,500,1000,2000], datum.value) >= 0","value":1},"value":0},
      "labelPadding":42}},
    "color":{"field":"model","type":"nominal",
     "scale":{"domain":["Lund+likelihood","Lund+LSTM","Lund Image+CNN","Lund+DNN","Jet Image+CNN","D₂[loose]+BDT"],"range":["#0000ff","#000000","#000000","#000000","#008000","#ff0000"]},
     "legend":{"title":null,"orient":"none","legendX":43,"legendY":564,"symbolType":"stroke","symbolSize":16900,"symbolStrokeWidth":11,"clipHeight":70,"labelFontSize":59,"labelOffset":37,"rowPadding":22,"padding":0,"labelLimit":2000,"labelColor":"black"}},
    "strokeDash":{"field":"model","type":"nominal",
     "scale":{"domain":["Lund+likelihood","Lund+LSTM","Lund Image+CNN","Lund+DNN","Jet Image+CNN","D₂[loose]+BDT"],"range":[[1,0],[1,0],[11,16.5],[37,18],[62,17,10,17],[1,0]]},
     "legend":{"title":null,"orient":"none","legendX":43,"legendY":564,"symbolType":"stroke","symbolSize":16900,"symbolStrokeWidth":11,"clipHeight":70,"labelFontSize":59,"labelOffset":37,"rowPadding":22,"padding":0,"labelLimit":2000,"labelColor":"black"}}
   },
   "layer":[
    {"transform":[{"filter":"datum.model == 'Lund+LSTM'"}],"mark":{"type":"line","clip":true,"strokeWidth":11}},
    {"transform":[{"filter":"datum.model == 'Lund Image+CNN'"}],"mark":{"type":"line","clip":true,"strokeWidth":11}},
    {"transform":[{"filter":"datum.model == 'Lund+DNN'"}],"mark":{"type":"line","clip":true,"strokeWidth":11}},
    {"transform":[{"filter":"datum.model == 'Jet Image+CNN'"}],"mark":{"type":"line","clip":true,"strokeWidth":11}},
    {"transform":[{"filter":"datum.model == 'D₂[loose]+BDT'"}],"mark":{"type":"line","clip":true,"strokeWidth":11}},
    {"transform":[{"filter":"datum.model == 'Lund+likelihood'"}],"mark":{"type":"line","clip":true,"strokeWidth":11}}
   ]
  },
  {
   "data":{"values":[{"note":"generator"}]},
   "mark":{"type":"text","text":["Pythia8(Monash13)","hadron+MPI","Delphes+SPRA1","pₜ > 2 TeV"],"align":"right","baseline":"top","fontSize":52,"lineHeight":79.6,"fill":"black"},
   "encoding":{
    "x":{"datum":0.969,"type":"quantitative","scale":{"domain":[0,1],"nice":false,"zero":false},"axis":null},
    "y":{"datum":3405,"type":"quantitative","scale":{"type":"log","domain":[1,5000],"nice":false},"axis":null}}
  }
 ]
},
{
 "width":1400,"height":488,
 "data":{"name":"ratio"},
 "encoding":{
  "x":{"field":"eff","type":"quantitative","scale":{"domain":[0,1],"nice":false,"zero":false},
   "axis":{"title":"εW","titlePadding":36,"labelOverlap":false,"values":[0,0.02,0.04,0.06,0.08,0.1,0.12,0.14,0.16,0.18,0.2,0.22,0.24,0.26,0.28,0.3,0.32,0.34,0.36,0.38,0.4,0.42,0.44,0.46,0.48,0.5,0.52,0.54,0.56,0.58,0.6,0.62,0.64,0.66,0.68,0.7,0.72,0.74,0.76,0.78,0.8,0.82,0.84,0.86,0.88,0.9,0.92,0.94,0.96,0.98,1],
    "labelExpr":"abs(datum.value*10 - round(datum.value*10)) < 0.000001 ? format(datum.value, '.1f') : ''",
    "tickSize":{"condition":{"test":"abs(datum.value*10 - round(datum.value*10)) < 0.000001","value":25},"value":13},
    "tickWidth":{"condition":{"test":"abs(datum.value*10 - round(datum.value*10)) < 0.000001","value":4.5},"value":3},
    "gridOpacity":{"condition":{"test":"abs(datum.value*10 - round(datum.value*10)) < 0.000001 && datum.value > 0.001 && datum.value < 0.999","value":1},"value":0},
    "labelPadding":42}},
  "y":{"field":"ratio","type":"quantitative","scale":{"type":"log","domain":[0.163,3],"nice":false},
   "axis":{"title":["ratio to","Lund+log.lik."],"titleLineHeight":69,"titlePadding":45,"format":"~g","labelOverlap":false,
    "values":[0.2,0.3,0.5,0.7,1,1.5,2,3],"tickSize":28,"tickWidth":4.5,
    "gridOpacity":{"condition":{"test":"datum.value < 2.9","value":1},"value":0},
    "labelPadding":42}},
  "color":{"field":"model","type":"nominal","legend":null,
   "scale":{"domain":["Lund+likelihood","Lund+LSTM","Lund Image+CNN","Lund+DNN","Jet Image+CNN","D₂[loose]+BDT"],"range":["#0000ff","#000000","#000000","#000000","#008000","#ff0000"]}},
  "strokeDash":{"field":"model","type":"nominal","legend":null,
   "scale":{"domain":["Lund+likelihood","Lund+LSTM","Lund Image+CNN","Lund+DNN","Jet Image+CNN","D₂[loose]+BDT"],"range":[[1,0],[1,0],[11,16.5],[37,18],[62,17,10,17],[1,0]]}}
 },
 "layer":[
  {"transform":[{"filter":"datum.model == 'Lund+likelihood'"}],"mark":{"type":"line","clip":true,"strokeWidth":11}},
  {"transform":[{"filter":"datum.model == 'Lund+LSTM'"}],"mark":{"type":"line","clip":true,"strokeWidth":11}},
  {"transform":[{"filter":"datum.model == 'Lund Image+CNN'"}],"mark":{"type":"line","clip":true,"strokeWidth":11}},
  {"transform":[{"filter":"datum.model == 'Lund+DNN'"}],"mark":{"type":"line","clip":true,"strokeWidth":11}},
  {"transform":[{"filter":"datum.model == 'Jet Image+CNN'"}],"mark":{"type":"line","clip":true,"strokeWidth":11}},
  {"transform":[{"filter":"datum.model == 'D₂[loose]+BDT'"}],"mark":{"type":"line","clip":true,"strokeWidth":11}}
 ]
}
]
}
